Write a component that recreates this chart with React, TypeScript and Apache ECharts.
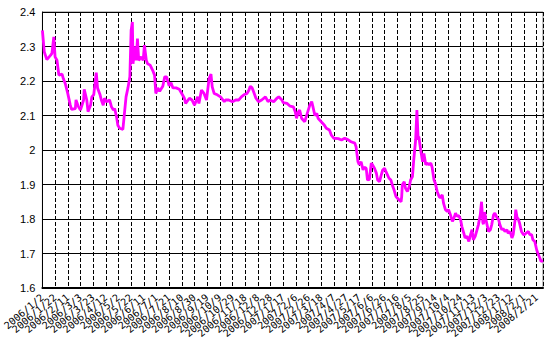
import React, { useEffect, useRef } from "react";
import * as echarts from "echarts";

// Tick labels of the date axis (one every 20 days)
const xTickLabels = [
  "2006/1/2", "2006/1/22", "2006/2/11", "2006/3/3", "2006/3/23", "2006/4/12", "2006/5/2", "2006/5/22",
  "2006/6/11", "2006/7/1", "2006/7/21", "2006/8/10", "2006/8/30", "2006/9/19", "2006/10/9", "2006/10/29",
  "2006/11/18", "2006/12/8", "2006/12/28", "2007/1/17", "2007/2/6", "2007/2/26", "2007/3/18", "2007/4/7",
  "2007/4/27", "2007/5/17", "2007/6/6", "2007/6/26", "2007/7/16", "2007/8/5", "2007/8/25", "2007/9/14",
  "2007/10/4", "2007/10/24", "2007/11/13", "2007/12/3", "2007/12/23", "2008/1/12", "2008/2/1", "2008/2/21",
];

// Day offsets counted from 2006/1/2 (axis start)
const dayOffsets = [
  0, 3, 7, 13, 15, 18, 20, 23, 26, 31, 33, 36, 40, 44, 46, 52, 53, 57, 60, 65,
  66, 70, 72, 76, 78, 81, 85, 87, 91, 93, 96, 98, 101, 106, 109, 112, 114, 117, 119, 122,
  127, 130, 132, 135, 138, 140, 142, 143, 146, 148, 150, 152, 156, 159, 161, 164, 166, 170, 174, 177,
  179, 182, 185, 190, 193, 196, 200, 203, 206, 211, 216, 221, 224, 226, 232, 236, 240, 245, 247, 251,
  255, 259, 263, 266, 268, 271, 276, 281, 287, 289, 294, 300, 305, 310, 314, 318, 323, 326, 328, 331,
  333, 337, 341, 346, 352, 356, 359, 365, 370, 373, 378, 380, 386, 391, 396, 399, 401, 404, 406, 409,
  414, 418, 422, 425, 427, 430, 433, 435, 440, 445, 448, 453, 456, 460, 467, 472, 477, 482, 487, 493,
  495, 498, 500, 503, 506, 508, 511, 513, 516, 519, 521, 524, 527, 529, 532, 534, 537, 540, 542, 547,
  550, 553, 555, 558, 560, 563, 566, 567, 568, 571, 573, 576, 579, 581, 584, 586, 589, 591, 593, 594,
  597, 600, 602, 605, 607, 610, 613, 615, 618, 620, 623, 626, 628, 631, 633, 636, 639, 641, 644, 647,
  649, 652, 654, 657, 660, 662, 665, 667, 670, 673, 675, 678, 680, 683, 686, 688, 691, 693, 695, 696,
  698, 700, 704, 707, 709, 712, 714, 717, 720, 722, 725, 727, 730, 733, 735, 738, 741, 743, 746, 747,
  749, 751, 753, 756, 759, 761, 764, 767, 769, 772, 774, 777, 780, 782, 785, 787, 790,
];

const rates = [
  2.347, 2.284, 2.262, 2.275, 2.28, 2.328, 2.27, 2.26, 2.217, 2.22, 2.207, 2.193, 2.164, 2.13, 2.118, 2.12, 2.145, 2.125, 2.116, 2.145,
  2.176, 2.145, 2.111, 2.13, 2.154, 2.16, 2.224, 2.18, 2.16, 2.145, 2.13, 2.15, 2.14, 2.145, 2.125, 2.116, 2.12, 2.096, 2.072, 2.063,
  2.06, 2.116, 2.154, 2.18, 2.212, 2.347, 2.371, 2.25, 2.3, 2.26, 2.323, 2.26, 2.27, 2.26, 2.304, 2.26, 2.25, 2.246, 2.231, 2.217,
  2.164, 2.18, 2.17, 2.185, 2.212, 2.212, 2.186, 2.195, 2.18, 2.18, 2.176, 2.16, 2.15, 2.135, 2.15, 2.145, 2.13, 2.154, 2.135, 2.174,
  2.164, 2.145, 2.207, 2.22, 2.183, 2.164, 2.16, 2.154, 2.14, 2.145, 2.145, 2.14, 2.145, 2.145, 2.154, 2.16, 2.164, 2.174, 2.185, 2.18,
  2.17, 2.15, 2.14, 2.145, 2.154, 2.14, 2.145, 2.14, 2.15, 2.154, 2.145, 2.137, 2.135, 2.127, 2.125, 2.111, 2.092, 2.111, 2.116, 2.092,
  2.082, 2.106, 2.13, 2.14, 2.125, 2.1, 2.106, 2.092, 2.082, 2.072, 2.063, 2.058, 2.043, 2.034, 2.033, 2.029, 2.034, 2.03, 2.024, 2.02,
  2.009, 1.966, 1.957, 1.966, 1.942, 1.95, 1.947, 1.913, 1.915, 1.962, 1.957, 1.947, 1.933, 1.913, 1.908, 1.923, 1.942, 1.947, 1.938, 1.918,
  1.913, 1.894, 1.884, 1.865, 1.861, 1.855, 1.85, 1.865, 1.899, 1.908, 1.889, 1.88, 1.894, 1.913, 1.923, 1.971, 2.029, 2.116, 2.03, 2.039,
  2.0, 1.966, 1.99, 1.957, 1.962, 1.957, 1.962, 1.95, 1.913, 1.904, 1.88, 1.865, 1.862, 1.87, 1.846, 1.827, 1.822, 1.827, 1.812, 1.793,
  1.8, 1.817, 1.808, 1.81, 1.798, 1.778, 1.759, 1.745, 1.75, 1.735, 1.75, 1.769, 1.74, 1.75, 1.769, 1.783, 1.812, 1.85, 1.79, 1.785,
  1.82, 1.798, 1.764, 1.769, 1.783, 1.812, 1.817, 1.805, 1.798, 1.783, 1.769, 1.772, 1.764, 1.769, 1.759, 1.764, 1.745, 1.755, 1.798, 1.827,
  1.805, 1.8, 1.788, 1.764, 1.755, 1.755, 1.76, 1.764, 1.755, 1.755, 1.74, 1.735, 1.711, 1.7, 1.687, 1.677, 1.68,
];

const X_MAX_DAYS = 790;
const X_STEP_DAYS = 20;
const Y_MIN = 1.6;
const Y_MAX = 2.4;
const Y_STEP = 0.1;

export default function App() {
  const ref = useRef<HTMLDivElement>(null);
  useEffect(() => {
    if (!ref.current) return;
    const chart = echarts.init(ref.current, undefined, { renderer: "svg" });
    const data = dayOffsets.map((d, i) => [d, rates[i]]);
    // half-step slots so that the last half interval (to 2008/3/2) stays unlabeled
    const labelSlots = xTickLabels.flatMap((l) => [l, ""]);
    chart.setOption({
      animation: false,
      backgroundColor: "#ffffff",
      grid: {
        left: 39,
        top: 12,
        right: 7,
        bottom: 62,
        show: true,
        borderColor: "#808080",
        borderWidth: 1,
        backgroundColor: "transparent",
      },
      xAxis: [
        {
          type: "value",
          min: 0,
          max: X_MAX_DAYS,
          interval: X_STEP_DAYS,
          axisLine: { show: true, lineStyle: { color: "#000", width: 2 } },
          axisTick: { show: false },
          axisLabel: { show: false },
          splitLine: {
            show: true,
            lineStyle: { color: "#000", width: 1, type: [4, 2] },
          },
        },
        {
          type: "category",
          position: "bottom",
          boundaryGap: false,
          data: labelSlots,
          axisLine: { show: false },
          axisTick: { show: false },
          splitLine: { show: false },
          axisLabel: {
            interval: 0,
            rotate: 40,
            fontSize: 10,
            fontFamily: "DejaVu Sans Mono, monospace",
            color: "#000",
            margin: 8,
            hideOverlap: false,
          },
        },
      ],
      yAxis: {
        type: "value",
        min: Y_MIN,
        max: Y_MAX,
        interval: Y_STEP,
        axisLine: { show: true, lineStyle: { color: "#000", width: 1 } },
        axisTick: { show: false },
        axisLabel: {
          fontSize: 11,
          fontFamily: "Liberation Sans, Arial, sans-serif",
          color: "#000",
          margin: 7,
          formatter: (v: number) => {
            const r = Math.round(v * 10) / 10;
            return Number.isInteger(r) ? String(r) : r.toFixed(1);
          },
        },
        splitLine: { show: true, lineStyle: { color: "#000", width: 1 } },
      },
      series: [
        {
          type: "line",
          xAxisIndex: 0,
          data,
          showSymbol: false,
          symbol: "none",
          lineStyle: { color: "#FF00FF", width: 2.8 },
          itemStyle: { color: "#FF00FF" },
        },
      ],
    });
    return () => chart.dispose();
  }, []);
  return (
    <div
      ref={ref}
      style={{ position: "fixed", left: 0, top: 0, width: 550, height: 350, background: "#fff" }}
    />
  );
}
